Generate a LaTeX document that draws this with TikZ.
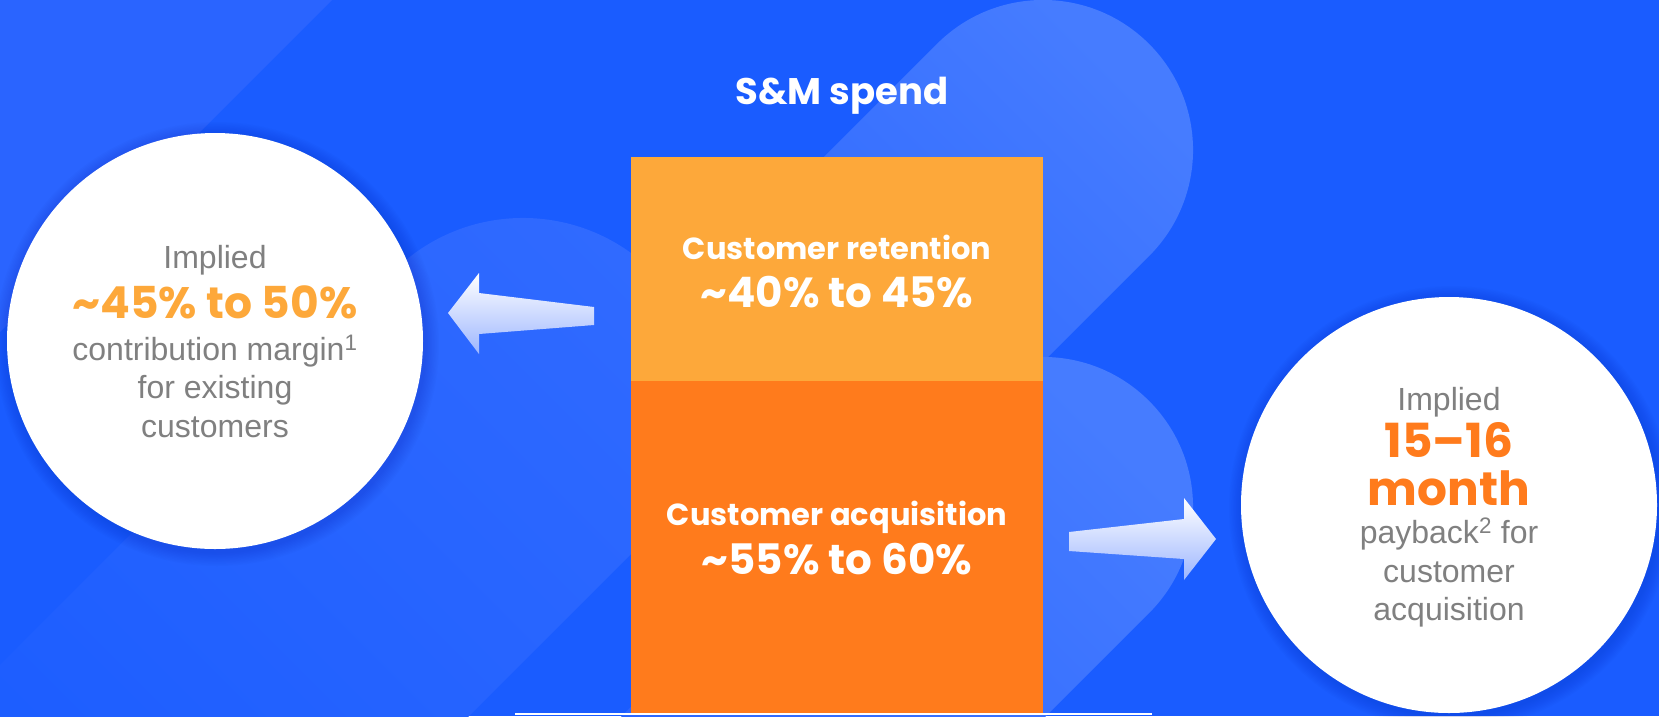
\documentclass[tikz,border=0pt]{standalone}
\usepackage{fontspec}
\setmainfont{Liberation Sans}
\newfontfamily\pop{Poppins}
\definecolor{bgblue}{RGB}{26,92,255}
\definecolor{capAl}{RGB}{70,124,255}
\definecolor{capAd}{RGB}{42,101,255}
\definecolor{capBl}{RGB}{48,106,255}
\definecolor{capBd}{RGB}{28,93,255}
\definecolor{capD}{RGB}{42,100,255}
\definecolor{lorange}{RGB}{253,168,58}
\definecolor{dorange}{RGB}{255,123,28}
\definecolor{txtgray}{RGB}{128,128,128}
\definecolor{arrowbot}{RGB}{157,182,255}
\definecolor{shadowblue}{RGB}{0,30,150}
\begin{document}
\begin{tikzpicture}[x=1pt,y=-1pt,
  graytxt/.style={inner sep=0pt, anchor=base, text=txtgray, font=\fontsize{32}{38}\selectfont},
  bigtxt/.style={inner sep=0pt, anchor=base, font=\pop\bfseries\fontsize{42}{48}\selectfont},
  hugetxt/.style={inner sep=0pt, anchor=base, align=center, text=dorange, font=\pop\bfseries\fontsize{47}{48}\selectfont},
  labtxt/.style={inner sep=0pt, anchor=base, text=white, font=\pop\bfseries\fontsize{30.5}{36}\selectfont},
  bubble/.style={circle, fill=white, minimum size=416pt, inner sep=0pt},
  barpart/.style={inner sep=0pt, anchor=north west, minimum width=412pt},
  blockarrow/.style={top color=white, bottom color=arrowbot}
]
\useasboundingbox (0,0) rectangle (1659,716);
\fill[bgblue] (0,0) rectangle (1659,716);
% decorative background capsules
\fill[capD] (0,0) -- (332,0) -- (0,332) -- cycle;
\begin{scope}
  \clip[shift={(523,402)}, rotate=225, rounded corners=183.9pt] (-184,-184) rectangle (900,184);
  \shade[top color=capBl, bottom color=capBd, shading angle=-45] (-100,150) rectangle (760,900);
\end{scope}
\begin{scope}
  \clip[shift={(1043,150)}, rotate=225, rounded corners=149.9pt] (-150,-150) rectangle (423,150);
  \shade[top color=capAl, bottom color=capAd, shading angle=-45] (680,0) rectangle (1200,520);
\end{scope}
\begin{scope}
  \clip[shift={(1043,507)}, rotate=225, rounded corners=149.9pt] (-150,-150) rectangle (700,150);
  \shade[top color=capAl, bottom color=capAd, shading angle=-45] (600,355) rectangle (1200,900);
\end{scope}
% bar
\node[barpart, fill=lorange, minimum height=224pt] (ret) at (631,157) {};
\node[barpart, fill=dorange, minimum height=332pt] (acq) at (631,381) {};
\coordinate (baseL) at (515,714);
\coordinate (baseR) at (1152,714);
\draw[white, line width=2.5pt] (baseL) -- (baseR);
% title and bar labels
\node[labtxt, font=\pop\bfseries\fontsize{37}{42}\selectfont] (title) at (842,104) {S\&M spend};
\node[labtxt] (retA) at (837,259) {Customer retention};
\node[bigtxt, text=white] (retB) at (837,307) {\textasciitilde40\% to 45\%};
\node[labtxt] (acqA) at (837,525) {Customer acquisition};
\node[bigtxt, text=white] (acqB) at (837,574) {\textasciitilde55\% to 60\%};
% arrows
\shade[blockarrow] (448,313) -- (479,273) -- (479,293) -- (594,307) -- (594,325) -- (479,334) -- (479,354) -- cycle;
\shade[blockarrow] (1069,532) -- (1184,519) -- (1184,498) -- (1216,539) -- (1184,580) -- (1184,559) -- (1069,551) -- cycle;
% bubble shadows
\foreach \i in {1,...,10}{
  \fill[shadowblue, opacity=0.02] (217,344) circle (208+1.4*\i);
  \fill[shadowblue, opacity=0.02] (1451,508) circle (208+1.4*\i);
}
\node[bubble] (lc) at (215,341) {};
\node[bubble] (rc) at (1449,505) {};
% left bubble text
\node[graytxt] (l1) at (215,268) {Implied};
\node[bigtxt, text=lorange, font=\pop\bfseries\fontsize{44}{50}\selectfont] (l2) at (215,318) {\textasciitilde45\% to 50\%};
\node[graytxt] (l3) at (215,360) {contribution margin\textsuperscript{1}};
\node[graytxt] (l4) at (215,398) {for existing};
\node[graytxt] (l5) at (215,437) {customers};
% right bubble text
\node[graytxt] (r1) at (1449,410) {Implied};
\node[hugetxt] (r2) at (1449,505) {15–16\\month};
\node[graytxt] (r4) at (1449,543) {payback\textsuperscript{2} for};
\node[graytxt] (r5) at (1449,582) {customer};
\node[graytxt] (r6) at (1449,620) {acquisition};
\end{tikzpicture}
\end{document}
